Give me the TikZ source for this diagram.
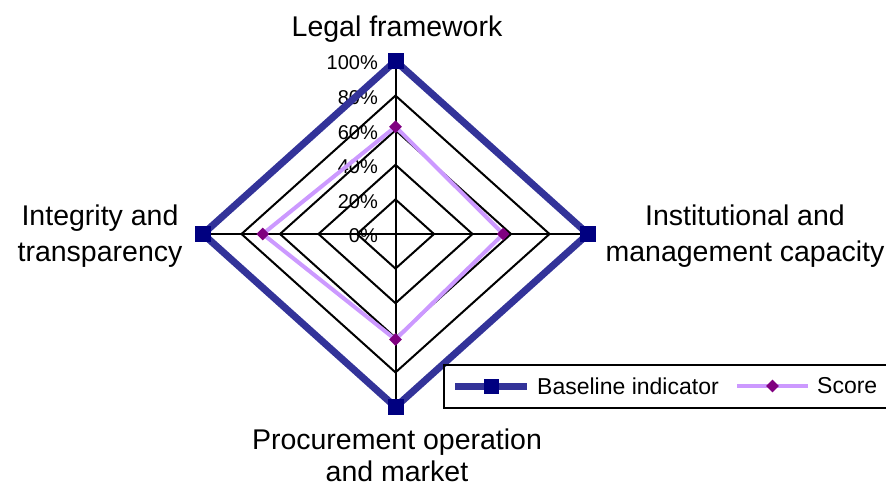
\documentclass[tikz,border=0pt]{standalone}
\usepackage{fontspec}
\setmainfont{Liberation Sans}
\usetikzlibrary{shapes.geometric}
\definecolor{basenavy}{HTML}{333399}
\definecolor{marknavy}{HTML}{000080}
\definecolor{scorelilac}{HTML}{CC99FF}
\definecolor{markpurple}{HTML}{800080}

\begin{document}
\begin{tikzpicture}[x=1pt,y=-1pt,
  gridline/.style={black, line width=2pt, line join=miter},
  baseseries/.style={basenavy, line width=7pt, line join=miter},
  scoreseries/.style={scorelilac, line width=4pt, line join=miter},
  basemark/.style={rectangle, fill=marknavy, inner sep=0pt, minimum size=16pt},
  scoremark/.style={diamond, fill=markpurple, inner sep=0pt, minimum size=13pt},
  ticklabel/.style={anchor=east, inner sep=0pt, font=\fontsize{20}{22}\selectfont},
  axislabel/.style={align=center, inner sep=0pt, font=\fontsize{28.5}{36}\selectfont},
  legendtext/.style={anchor=west, inner sep=0pt, font=\fontsize{23}{25}\selectfont}]

\useasboundingbox (0,0) rectangle (886,488);

% centre and the 100% end of each axis
\coordinate (C) at (395.5,234);
\coordinate (T) at (395.5,61);
\coordinate (R) at (588,234);
\coordinate (B) at (395.5,407);
\coordinate (L) at (203,234);

% grid rings every 20%
\foreach \f in {0.2,0.4,0.6,0.8,1}
  \draw[gridline] (395.5,{234-\f*173}) -- ({395.5+\f*192.5},234)
    -- (395.5,{234+\f*173}) -- ({395.5-\f*192.5},234) -- cycle;

% axes
\draw[gridline] (C) -- (T);
\draw[gridline] (C) -- (R);
\draw[gridline] (C) -- (B);
\draw[gridline] (C) -- (L);

% scale labels on the upper axis
\foreach \k in {0,1,2,3,4,5}
  \node[ticklabel] (tick\k) at (378,{236-\k*34.6}) {\the\numexpr\k*20\relax\%};

% baseline indicator series
\draw[baseseries] (T) -- (R) -- (B) -- (L) -- cycle;

% score series
\coordinate (ST) at (395.5,126.7);
\coordinate (SR) at (503.3,234);
\coordinate (SB) at (395.5,339.5);
\coordinate (SL) at (262.7,234);
\draw[scoreseries] (ST) -- (SR) -- (SB) -- (SL) -- cycle;

\foreach \p in {T,R,B,L}
  \node[basemark] (m\p) at (\p) {};
\foreach \p in {ST,SR,SB,SL}
  \node[scoremark] (m\p) at (\p) {};

% axis titles
\node[axislabel, anchor=base] (lblT) at (397,36) {Legal framework};
\node[axislabel] (lblR) at (745,236) {Institutional and\\management capacity};
\node[axislabel, font=\fontsize{28.5}{32}\selectfont] (lblB) at (397,455) {Procurement operation\\and market};
\node[axislabel] (lblL) at (100,236) {Integrity and\\transparency};

% legend
\draw[black, line width=2pt] (443.5,365) rectangle (892,408);
\coordinate (lb1) at (455,386);
\coordinate (lb2) at (527,386);
\draw[baseseries] (lb1) -- (lb2);
\node[basemark, minimum size=15pt] (lbm) at (491,386) {};
\node[legendtext] (lbt) at (537,386) {Baseline indicator};
\coordinate (ls1) at (737,386);
\coordinate (ls2) at (808,386);
\draw[scoreseries] (ls1) -- (ls2);
\node[scoremark] (lsm) at (772.5,386) {};
\node[legendtext] (lst) at (817,386) {Score};
\end{tikzpicture}
\end{document}
